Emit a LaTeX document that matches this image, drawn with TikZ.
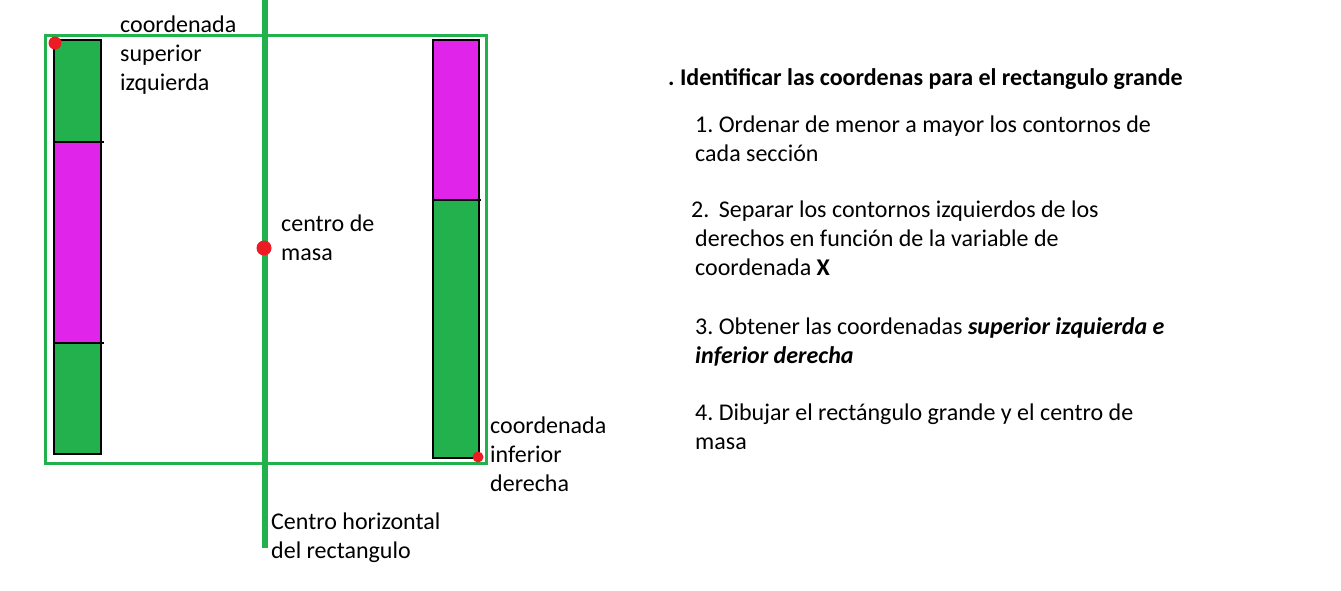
\documentclass[tikz,border=0pt]{standalone}
\usepackage{fontspec}
\setmainfont{Carlito}
\usepackage{tikz}
\usetikzlibrary{positioning}

\definecolor{paintgreen}{RGB}{34,177,76}
\definecolor{paintred}{RGB}{237,28,36}
\definecolor{paintmagenta}{RGB}{224,36,234}

\tikzset{
    label text/.style={align=left, anchor=base west, inner sep=0pt,
        font=\fontsize{24}{29}\selectfont},
    head text/.style={label text, font=\fontsize{24}{29}\selectfont\bfseries},
    segment/.style={draw=black, line width=1.4pt},
    reddot/.style={fill=paintred},
}

\begin{document}
\frenchspacing
\begin{tikzpicture}[x=1pt, y=-1pt]
    \useasboundingbox (0,0) rectangle (1341,590);
    % --- big rectangle and horizontal centre ---
    \draw[paintgreen, line width=3pt] (45,35) rectangle (486,463);
    \draw[paintgreen, line width=6.5pt] (265,0) -- (265,548);
    % --- left column ---
    \fill[paintgreen] (54,40) rectangle (101,142);
    \fill[paintmagenta] (54,142) rectangle (101,343);
    \fill[paintgreen] (54,343) rectangle (101,454);
    \draw[segment] (54,40) rectangle (101,454);
    \foreach \y in {142,343} {
        \draw[segment] (54,\y) -- (104,\y);
    }
    % --- right column ---
    \fill[paintmagenta] (433,40) rectangle (479,200);
    \fill[paintgreen] (433,200) rectangle (479,458);
    \draw[segment] (433,40) rectangle (479,458);
    \draw[segment] (432,200) -- (481,200);
    % --- points ---
    \fill[reddot] (55,43) circle (6.5);
    \fill[reddot] (264,248) circle (7.5);
    \fill[reddot] (478,457) circle (5.5);
    % --- labels on the sketch (anchored at the baseline of the last line) ---
    \node[label text] (supizq) at (120,90) {coordenada\\superior\\izquierda};
    \node[label text] (masa) at (281,260) {centro de\\masa};
    \node[label text] (infder) at (490,491) {coordenada\\inferior\\derecha};
    \node[label text] (centroh) at (271,558) {Centro horizontal\\del rectangulo};
    % --- steps ---
    \node[head text] (titulo) at (668,85) {. Identificar las coordenas para el rectangulo grande};
    \node[label text] (paso1) at (695,161) {1. Ordenar de menor a mayor los contornos de\\cada sección};
    \node[label text] (paso2) at (695,275) {\hspace*{-4pt}2.~\,Separar los contornos izquierdos de los\\derechos en función de la variable de\\coordenada \textbf{X}};
    \node[label text] (paso3) at (695,363) {3. Obtener las coordenadas \textbf{\textit{superior izquierda e}}\\\textbf{\textit{inferior derecha}}};
    \node[label text] (paso4) at (695,449) {4. Dibujar el rectángulo grande y el centro de\\masa};
\end{tikzpicture}
\end{document}
